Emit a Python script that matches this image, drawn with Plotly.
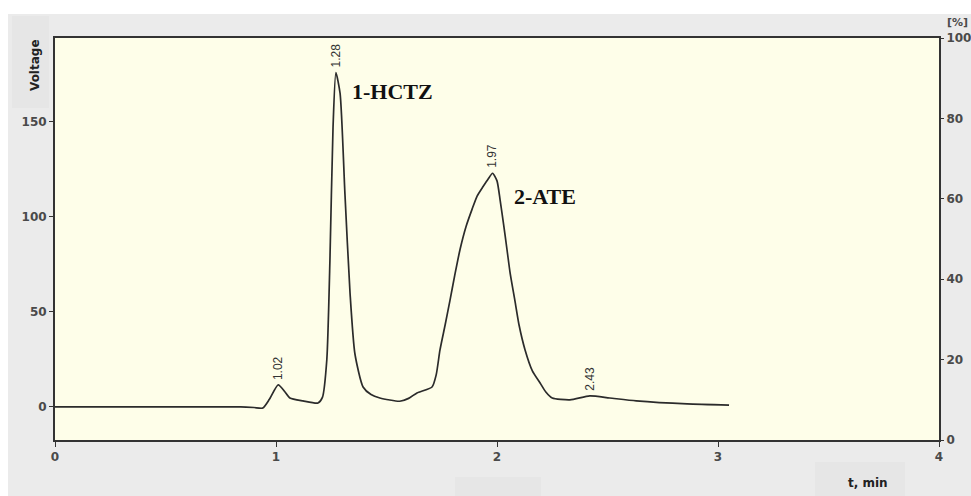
import plotly.graph_objects as go

# Chromatogram trace (time in min, detector voltage)
time_min = [0, 0.5, 0.84, 0.9, 0.94, 0.97, 1.01, 1.04, 1.063, 1.122, 1.19, 1.21, 1.23, 1.244,
            1.258, 1.271, 1.29, 1.312, 1.335, 1.357, 1.394, 1.43, 1.47, 1.56, 1.60, 1.638, 1.706,
            1.725, 1.742, 1.765, 1.787, 1.81, 1.833, 1.86, 1.887, 1.91, 1.937, 1.96, 1.98,
            2.0, 2.014, 2.03, 2.045, 2.06, 2.081, 2.10, 2.127, 2.16, 2.195, 2.22, 2.25, 2.33,
            2.42, 2.51, 2.63, 2.86, 3.05]
voltage = [0, 0, 0, -0.3, -0.6, 4, 11.6, 8, 4.7, 3.2, 2.1, 5, 25, 77,
           147, 176, 165, 112, 60, 28, 10.5, 6.5, 4.7, 3, 4.5, 7.4, 10.5,
           17, 30, 43, 56, 70, 83, 95, 104, 111, 116, 120, 123,
           119, 109, 96, 83, 70, 56, 43, 30, 19, 12.6, 8, 4.7, 3.7,
           5.8, 4.7, 3.2, 1.6, 1.0]

# Peak labels
peak_times = [1.01, 1.271, 1.98, 2.42]
peak_heights = [11.6, 176, 123, 5.8]
peak_labels = ["1.02", "1.28", "1.97", "2.43"]

# Compound labels
compound_names = ["1-HCTZ", "2-ATE"]
compound_t = [1.335, 2.068]
compound_v = [166, 111]

x_ticks = [0, 1, 2, 3, 4]
y_ticks = [0, 50, 100, 150]
y2_ticks = [0, 20, 40, 60, 80, 100]

tickfont = dict(family="DejaVu Sans", size=12, color="#4a4a4a", weight="bold")

fig = go.Figure()
fig.add_trace(go.Scatter(x=time_min, y=voltage, mode="lines",
                         line=dict(color="#2b2b2b", width=1.7, shape="spline", smoothing=0.6),
                         hoverinfo="skip", showlegend=False))
fig.add_trace(go.Scatter(x=[None], y=[None], yaxis="y2", mode="lines",
                         showlegend=False, hoverinfo="skip"))

for t, v, lab in zip(peak_times, peak_heights, peak_labels):
    fig.add_annotation(x=t, y=v, text=lab, textangle=-90, showarrow=False,
                       xanchor="center", yanchor="bottom", yshift=3,
                       font=dict(family="Liberation Sans Narrow, Liberation Sans", size=12, color="#333"))

for name, t, v in zip(compound_names, compound_t, compound_v):
    fig.add_annotation(x=t, y=v, text=name, showarrow=False, xanchor="left", yanchor="middle",
                       font=dict(family="Liberation Serif", size=22, color="#111", weight="bold"))

W, H = 971, 496
ml, mr, mt, mb = 55, 32, 38, 56
pw, ph = W - ml - mr, H - mt - mb

def px(xp):
    return (xp - ml) / pw

def py(yp):
    return (H - mb - yp) / ph

shapes = [
    # white strips of the page
    dict(type="rect", xref="paper", yref="paper", x0=px(0), x1=px(W), y0=py(14), y1=py(0),
         fillcolor="white", line_width=0, layer="below"),
    dict(type="rect", xref="paper", yref="paper", x0=px(0), x1=px(8), y0=py(H), y1=py(0),
         fillcolor="white", line_width=0, layer="below"),
    # subtle label boxes
    dict(type="rect", xref="paper", yref="paper", x0=px(12), x1=px(49), y0=py(108), y1=py(16),
         fillcolor="#e6e6e6", line_width=0, layer="below"),
    dict(type="rect", xref="paper", yref="paper", x0=px(815), x1=px(905), y0=py(H), y1=py(462),
         fillcolor="#e6e6e6", line_width=0, layer="below"),
    dict(type="rect", xref="paper", yref="paper", x0=px(455), x1=px(541), y0=py(H), y1=py(477),
         fillcolor="#e6e6e6", line_width=0, layer="below"),
]

fig.add_annotation(xref="paper", yref="paper", x=px(35), y=py(65), text="Voltage", textangle=-90,
                   xanchor="center", yanchor="middle",
                   showarrow=False, font=dict(family="DejaVu Sans", size=12, color="#222", weight="bold"))
fig.add_annotation(xref="paper", yref="paper", x=px(868), y=py(483), text="t, min",
                   xanchor="center", yanchor="middle",
                   showarrow=False, font=dict(family="DejaVu Sans", size=12, color="#222", weight="bold"))
fig.add_annotation(xref="paper", yref="paper", x=px(945), y=py(31), text="[%]", xanchor="left",
                   yanchor="bottom", showarrow=False,
                   font=dict(family="DejaVu Sans", size=11, color="#4a4a4a", weight="bold"))

fig.update_layout(
    width=W, height=H,
    margin=dict(l=ml, r=mr, t=mt, b=mb, autoexpand=False),
    paper_bgcolor="#ebebeb",
    plot_bgcolor="#fefee9",
    shapes=shapes,
    xaxis=dict(range=[0, 4], tickvals=x_ticks, ticks="outside", ticklen=5, tickcolor="#333",
               showgrid=False, zeroline=False, showline=True, linecolor="#333", linewidth=2,
               mirror=True, tickfont=tickfont, automargin=False),
    yaxis=dict(range=[-17.4, 194.2], tickvals=y_ticks, ticks="outside", ticklen=4, tickcolor="#333",
               showgrid=False, zeroline=False, showline=True, linecolor="#333", linewidth=2,
               mirror=True, tickfont=tickfont, ticklabelstandoff=0, automargin=False),
    yaxis2=dict(range=[0, 100], tickvals=y2_ticks, overlaying="y", side="right", ticks="outside",
                ticklen=4, tickcolor="#333", showgrid=False, zeroline=False, showline=False,
                tickfont=tickfont, automargin=False, ticklabelstandoff=0),
)

fig.write_html("out.html")
